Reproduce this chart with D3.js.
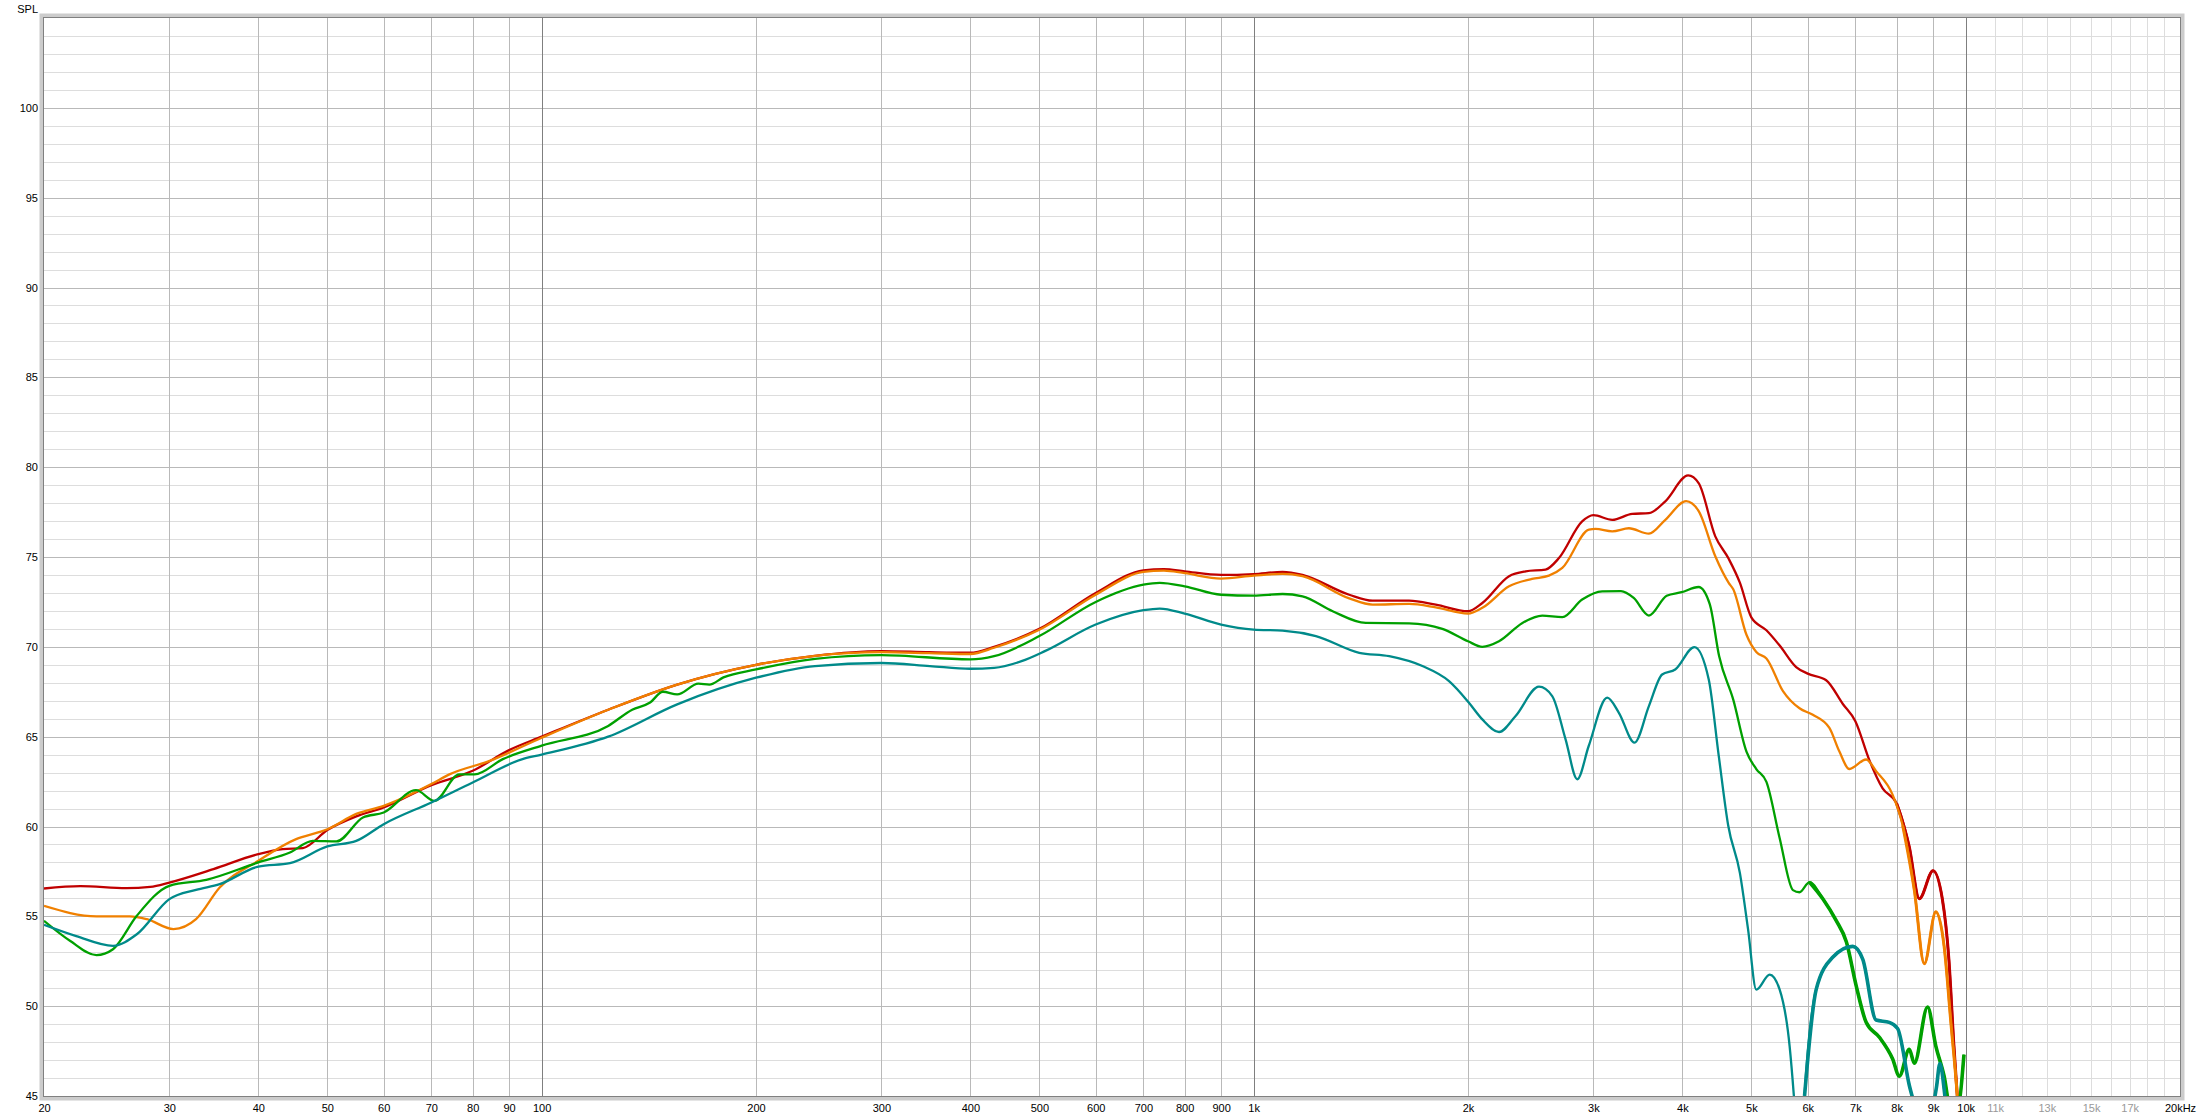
<!DOCTYPE html>
<html><head><meta charset="utf-8">
<script src="https://cdn.jsdelivr.net/npm/d3@7"></script>
<style>
html,body{margin:0;padding:0;background:#fff;}
svg{display:block;}
text{font-family:"Liberation Sans",Arial,sans-serif;font-size:11px;}
</style>
</head><body>
<svg id="chart" width="2202" height="1120"></svg>
<script>
// ---- data: [frequency Hz, SPL dB] ----
const redCurve = [[20,56.55],[22.5,56.68],[26.1,56.57],[28.2,56.64],[30,56.88],[34.6,57.63],[40,58.46],[43.3,58.74],[46.2,58.8],[50,59.8],[54.9,60.56],[60,61.06],[70,62.3],[80,63.1],[90,64.25],[100,65.0],[124,66.5],[155,67.9],[200,69.0],[242,69.5],[300,69.76],[350,69.7],[400,69.67],[432,70.0],[500,71.0],[600,73.0],[700,74.26],[748,74.33],[800,74.2],[900,74.0],[1000,74.05],[1098,74.17],[1171,74.0],[1362,72.9],[1469,72.57],[1653,72.57],[1802,72.35],[2000,71.98],[2095,72.44],[2284,73.93],[2410,74.2],[2570,74.3],[2684,74.94],[2893,76.98],[3000,77.33],[3189,77.07],[3401,77.4],[3590,77.44],[3786,78.1],[4076,79.54],[4219,79.1],[4450,76.15],[4647,74.9],[4818,73.57],[5000,71.64],[5250,70.92],[5480,70.07],[5780,68.87],[6000,68.51],[6369,68.14],[6722,66.82],[7000,65.86],[7324,63.69],[7645,62.12],[8000,61.28],[8333,58.87],[8608,55.98],[9000,57.54],[9272,55.98],[9472,52.6],[9627,47.8],[9733,45],[9850,42]];
const orangeCurve = [[20,55.58],[23.7,55.0],[26.4,55.0],[27.9,54.84],[30.4,54.29],[32.7,54.84],[35.3,56.6],[40,58.09],[45.2,59.3],[48.8,59.7],[50,59.85],[54.9,60.7],[60,61.15],[70,62.36],[74.2,62.9],[84.5,63.65],[100,64.94],[124,66.5],[155,67.9],[200,69.0],[242,69.5],[300,69.7],[350,69.65],[400,69.6],[432,69.95],[500,70.95],[600,72.9],[700,74.17],[748,74.24],[800,74.1],[900,73.8],[1000,73.96],[1098,74.06],[1171,73.93],[1362,72.7],[1469,72.35],[1653,72.39],[1802,72.2],[2000,71.85],[2095,72.17],[2284,73.37],[2460,73.78],[2598,73.96],[2713,74.39],[2957,76.52],[3021,76.56],[3189,76.43],[3365,76.6],[3590,76.3],[3786,77.07],[4049,78.11],[4219,77.54],[4450,75.04],[4647,73.56],[4716,73.2],[4922,70.67],[5081,69.71],[5250,69.35],[5539,67.54],[5843,66.58],[6100,66.22],[6436,65.49],[6648,64.17],[6866,63.2],[7248,63.73],[7485,63.08],[7897,61.76],[8156,60.07],[8470,56.46],[8748,52.36],[9080,55.25],[9327,53.33],[9526,49.23],[9733,45],[9850,42]];
const greenCurve = [[20,54.75],[21.75,53.64],[23.7,52.84],[25.0,53.17],[27.0,55.03],[30,56.7],[33.8,57.03],[40,58.0],[44.3,58.55],[47.7,59.2],[51.5,59.17],[56.1,60.5],[60,60.78],[66.6,62.02],[70.7,61.43],[76.6,62.9],[80.5,62.9],[88.2,63.75],[100,64.5],[124,65.6],[134,66.5],[142,66.9],[148,67.5],[155,67.35],[166,67.95],[172,67.9],[180,68.3],[200,68.74],[242,69.33],[300,69.54],[400,69.3],[432,69.48],[500,70.6],[600,72.5],[700,73.46],[738,73.56],[800,73.37],[900,72.9],[1000,72.85],[1098,72.94],[1171,72.81],[1291,71.98],[1437,71.33],[1653,71.31],[1841,71.0],[2000,70.31],[2095,70.0],[2211,70.31],[2385,71.33],[2543,71.74],[2713,71.65],[2893,72.63],[3087,73.09],[3280,73.1],[3418,72.72],[3590,71.74],[3802,72.84],[3990,73.04],[4216,73.33],[4372,72.36],[4506,69.47],[4716,67.06],[4922,64.17],[5081,63.2],[5250,62.48],[5480,59.35],[5720,56.46],[5843,56.34],[6036,56.9],[6300,55.98],[6577,54.77],[6800,53.57],[7016,51.16],[7248,49.1],[7565,48.27],[7897,47.06],[8069,46.1],[8333,47.6],[8470,46.82],[8841,49.95],[9080,47.78],[9327,46.1],[9500,44.5],[9750,44.5],[9945,47.3]];
const tealCurve = [[20,54.53],[22.2,53.9],[25.0,53.36],[27.0,54.0],[30,55.96],[32.7,56.47],[35.3,56.79],[40,57.77],[44.3,57.96],[50,58.89],[54.9,59.2],[60,60.13],[70,61.34],[80,62.45],[94,63.75],[100,64.0],[124,65.0],[155,66.8],[200,68.28],[242,68.93],[300,69.1],[351,68.93],[400,68.78],[432,68.83],[472,69.2],[509,69.76],[600,71.24],[700,72.04],[738,72.13],[800,71.85],[900,71.24],[1000,70.96],[1098,70.9],[1223,70.6],[1407,69.67],[1550,69.48],[1726,68.93],[1881,68.09],[2006,66.89],[2095,65.96],[2211,65.26],[2333,66.15],[2516,67.78],[2626,67.26],[2742,64.85],[2848,62.63],[2955,64.48],[3137,67.17],[3258,66.33],[3427,64.67],[3590,66.7],[3747,68.46],[3909,68.74],[4159,69.98],[4356,68.19],[4500,63.93],[4639,60.07],[4818,57.42],[4947,54.29],[5081,50.92],[5306,51.76],[5480,50.92],[5659,47.78],[5750,44.5],[5850,40],[5939,45],[6166,50.92],[6505,52.72],[6942,53.33],[7170,52.6],[7485,49.23],[7811,49.1],[8026,48.75],[8333,45.6],[8470,44.5],[8700,42],[8900,43.5],[9100,45.5],[9200,46.8],[9350,45],[9500,42]];

const seriesNames = ["red","orange","green","teal"];
const seriesColors = ["#c00000","#f08000","#00a000","#008a8a"];
// frequency above which each measured trace becomes noisy (drawn as a thicker band)
const noiseFrom = [8000, 8000, 6000, 5900];

const xTickValues = [20,30,40,50,60,70,80,90,100,200,300,400,500,600,700,800,900,1000,2000,3000,4000,5000,6000,7000,8000,9000,10000,11000,13000,15000,17000,20000];
const xTickLabels = ["20","30","40","50","60","70","80","90","100","200","300","400","500","600","700","800","900","1k","2k","3k","4k","5k","6k","7k","8k","9k","10k","11k","13k","15k","17k","20kHz"];
const xGreyLabels = ["11k","13k","15k","17k"];
const xGridMain = [30,40,50,60,70,80,90,200,300,400,500,600,700,800,900,2000,3000,4000,5000,6000,7000,8000,9000];
const xGridDecade = [100,1000,10000];
const xGridFine = [11000,12000,13000,14000,15000,16000,17000,18000,19000];
const yTickValues = [45,50,55,60,65,70,75,80,85,90,95,100];
const yMinorValues = d3.range(46,105);
const yAxisTitle = "SPL";

// ---- layout ----
const L = 44, R = 2180, T = 18, B = 1096;
const svg = d3.select("#chart");
const x = d3.scaleLog().domain([20,20000]).range([L,R]);
const y = d3.scaleLinear().domain([45,105]).range([B,T]);

// frame bevel
svg.append("rect").attr("x",L-2.5).attr("y",T-2.5).attr("width",R-L+5).attr("height",B-T+5)
  .attr("fill","none").attr("stroke","#cccccc").attr("stroke-width",4);
svg.append("rect").attr("x",L).attr("y",T).attr("width",R-L).attr("height",B-T).attr("fill","#fff");

const grid = svg.append("g");
grid.selectAll("line.h").data(yMinorValues).enter().append("line")
  .attr("x1",L).attr("x2",R).attr("y1",d=>Math.round(y(d))+0.5).attr("y2",d=>Math.round(y(d))+0.5)
  .attr("stroke",d=>d%5===0?"#b9b9b9":"#dddddd").attr("stroke-width",1);
grid.selectAll("line.vf").data(xGridFine).enter().append("line")
  .attr("y1",T).attr("y2",B).attr("x1",d=>Math.round(x(d))+0.5).attr("x2",d=>Math.round(x(d))+0.5)
  .attr("stroke","#dddddd");
grid.selectAll("line.vm").data(xGridMain).enter().append("line")
  .attr("y1",T).attr("y2",B).attr("x1",d=>Math.round(x(d))+0.5).attr("x2",d=>Math.round(x(d))+0.5)
  .attr("stroke","#b9b9b9");
grid.selectAll("line.vd").data(xGridDecade).enter().append("line")
  .attr("y1",T).attr("y2",B).attr("x1",d=>Math.round(x(d))+0.5).attr("x2",d=>Math.round(x(d))+0.5)
  .attr("stroke","#7f7f7f");

// curves
svg.append("clipPath").attr("id","clip").append("rect").attr("x",L).attr("y",T).attr("width",R-L).attr("height",B-T);
const line = d3.line().x(d=>x(d[0])).y(d=>y(d[1])).curve(d3.curveMonotoneX);
const allSeries = [redCurve, orangeCurve, greenCurve, tealCurve];
const gC = svg.append("g").attr("clip-path","url(#clip)");
allSeries.forEach((s,i)=>{
  gC.append("path").datum(s).attr("d",line).attr("fill","none")
    .attr("stroke",seriesColors[i]).attr("stroke-width",2.3).attr("stroke-linejoin","round");
  const noisy = s.filter(d=>d[0]>=noiseFrom[i]);
  gC.append("path").datum(noisy).attr("d",line).attr("fill","none")
    .attr("stroke",seriesColors[i]).attr("stroke-width",i<2?3:3.6).attr("stroke-linejoin","round");
});

// plot border
svg.append("rect").attr("x",L-0.5).attr("y",T-0.5).attr("width",R-L+1).attr("height",B-T+1)
  .attr("fill","none").attr("stroke","#808080").attr("stroke-width",1);

// axes
const yAxis = d3.axisLeft(y).tickValues(yTickValues).tickSize(0).tickPadding(6).tickFormat(d3.format("d"));
const gy = svg.append("g").attr("transform",`translate(${L},0)`).call(yAxis);
gy.select(".domain").remove();
gy.selectAll("text").attr("fill","#000").style("font-size","11px").style("font-family","'Liberation Sans',Arial,sans-serif");

const xAxis = d3.axisBottom(x).tickValues(xTickValues).tickSize(0).tickPadding(8).tickFormat((d,i)=>xTickLabels[i]);
const gx = svg.append("g").attr("transform",`translate(0,${B})`).call(xAxis);
gx.select(".domain").remove();
gx.selectAll("text").attr("fill",(d,i)=>xGreyLabels.includes(xTickLabels[i])?"#999999":"#000")
  .style("font-size","11px").style("font-family","'Liberation Sans',Arial,sans-serif");

svg.append("text").attr("x",38).attr("y",13).attr("text-anchor","end").attr("fill","#000").text(yAxisTitle);
</script>
</body></html>
